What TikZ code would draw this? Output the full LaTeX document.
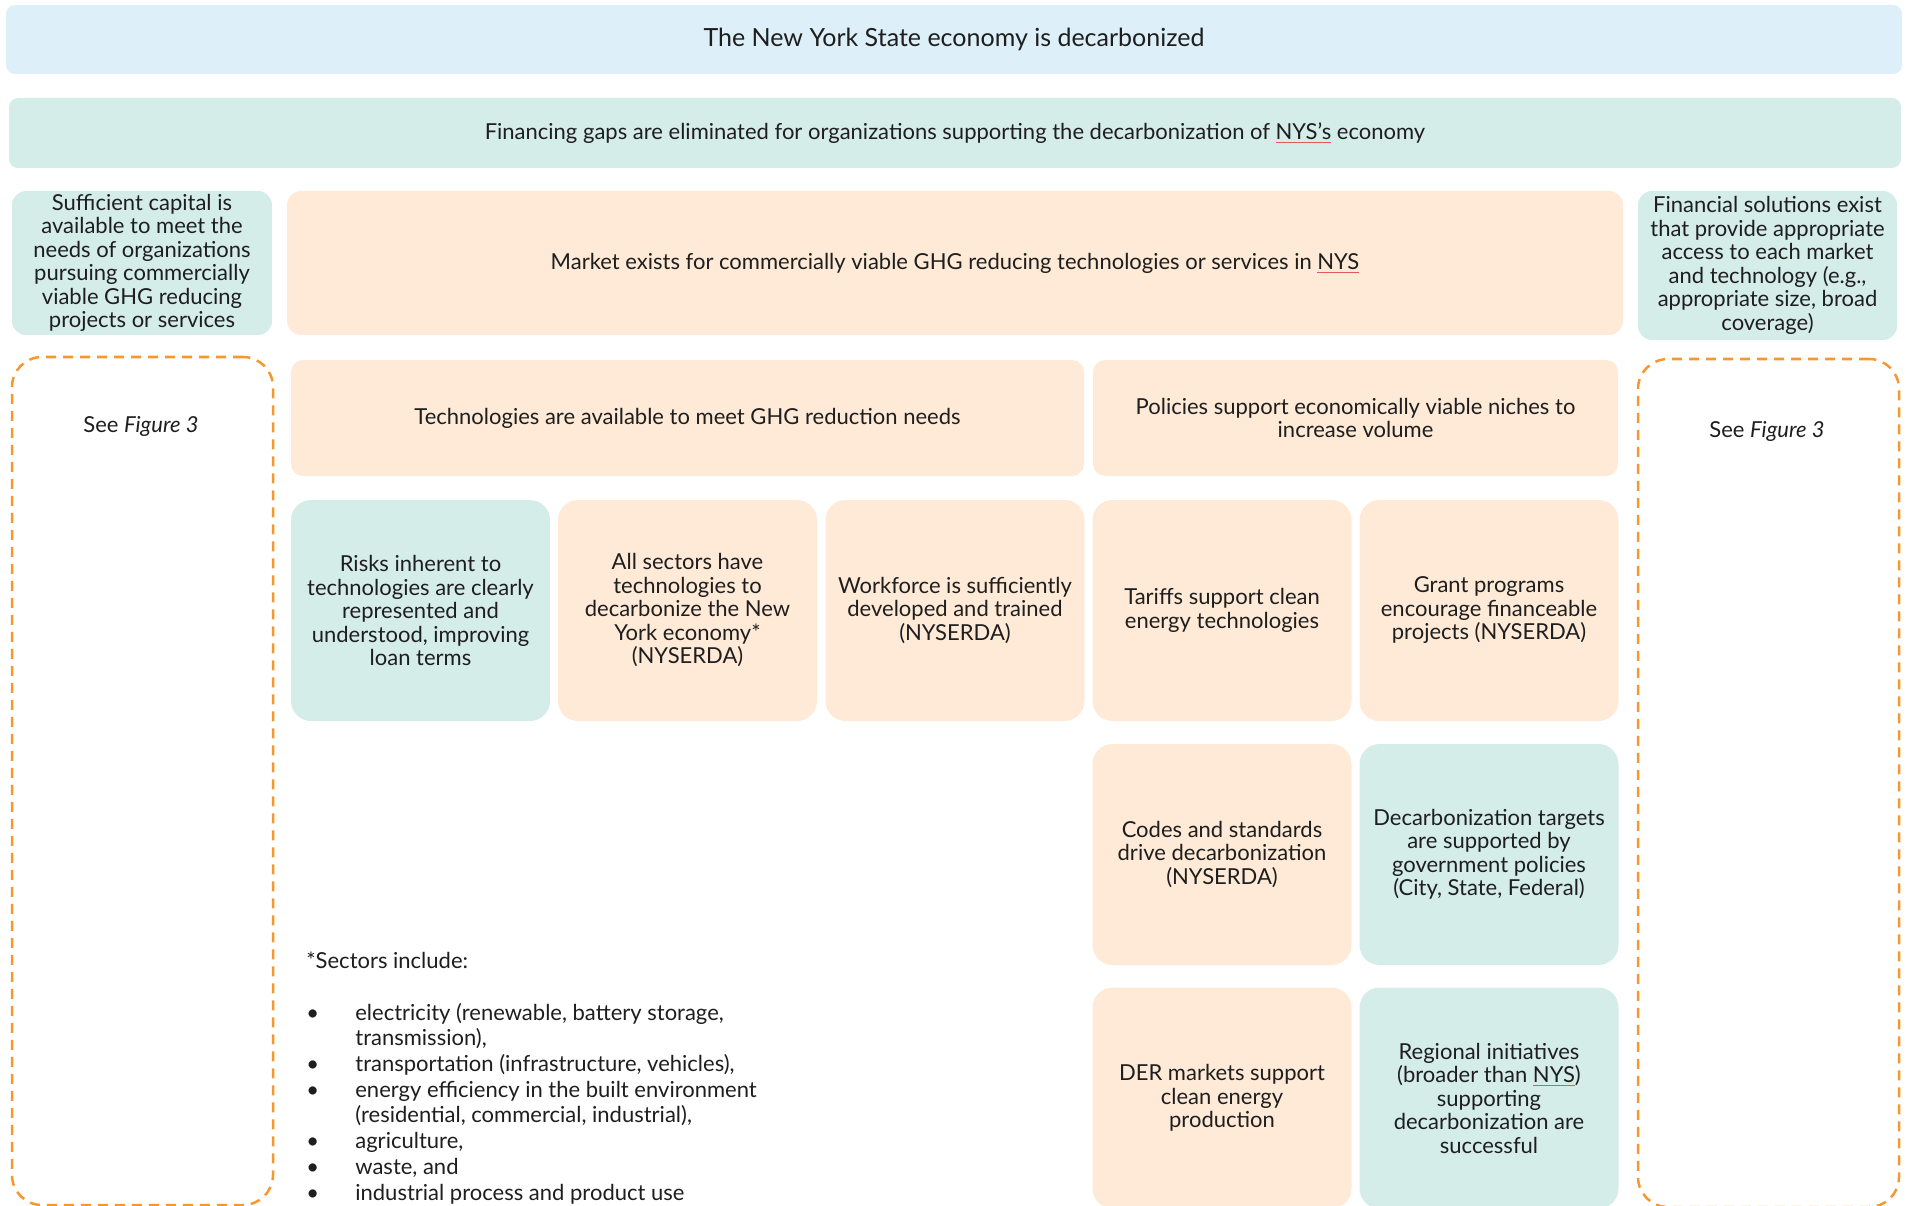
\documentclass[tikz,border=0pt]{standalone}
\usepackage{fontspec}
\setmainfont{Lato}

\definecolor{ink}{HTML}{1E1E1E}
\definecolor{skyfill}{HTML}{DDEFF8}
\definecolor{tealfill}{HTML}{D5EDE9}
\definecolor{peachfill}{HTML}{FEEAD7}
\definecolor{dashorange}{HTML}{F7982F}
\definecolor{spellred}{HTML}{E05A5A}

\newcommand\boxfont{\fontsize{22}{23.5}\selectfont}
\newcommand\headfont{\fontsize{25}{28}\selectfont}
\newcommand\notefont{\fontsize{22}{25.7}\selectfont}
\newsavebox\spellbox
\newcommand\spellul[1]{\sbox\spellbox{#1}\rlap{\textcolor{spellred}{\rule[-0.3ex]{\wd\spellbox}{0.7pt}}}\usebox\spellbox}

\tikzset{every picture/.style={line width=0.75pt}}
\tikzset{
  goalbox/.style={rectangle, rounded corners=9pt, inner sep=0pt, align=center, text=ink, font=\boxfont},
  cellbox/.style={goalbox, rounded corners=20pt, minimum width=259pt, minimum height=221pt},
  seebox/.style={rectangle, rounded corners=30pt, draw=dashorange, line width=2.5pt, dash pattern=on 10pt off 7pt, minimum width=261pt, minimum height=848pt},
  plaintext/.style={inner sep=0pt, text=ink, font=\boxfont}
}

\begin{document}
\begin{tikzpicture}[x=1pt,y=1pt,yscale=-1,xscale=1]
\clip (0,0) rectangle (1912,1206);

%Rounded Rect [top goal]
\node [goalbox, fill=skyfill, minimum width=1896pt, minimum height=69pt, font=\headfont] (decarb) at (954,39.5) {The New York State economy is decarbonized};
%Rounded Rect [financing gaps]
\node [goalbox, fill=tealfill, minimum width=1892pt, minimum height=70pt] (gaps) at (955,133) {Financing gaps are eliminated for organizations supporting the decarbonization of \spellul{NYS’s} economy};

%Rounded Rect [third row]
\node [goalbox, fill=tealfill, rounded corners=14pt, minimum width=260pt, minimum height=144pt] (capital) at (142,263) {Sufficient capital is\\available to meet the\\needs of organizations\\pursuing commercially\\viable GHG reducing\\projects or services};
\node [goalbox, fill=peachfill, rounded corners=14pt, minimum width=1336pt, minimum height=144pt] (market) at (955,263) {Market exists for commercially viable GHG reducing technologies or services in \spellul{NYS}};
\node [goalbox, fill=tealfill, rounded corners=14pt, minimum width=259pt, minimum height=149pt] (solutions) at (1767.5,265.5) {Financial solutions exist\\that provide appropriate\\access to each market\\and technology (e.g.,\\appropriate size, broad\\coverage)};

%Dashed Rect [see figure 3]
\node [seebox] (seeL) at (142.5,781) {};
\node [seebox] (seeR) at (1768.5,783) {};
\node [plaintext] (seeLtext) at (141,426) {See \textit{Figure 3}};
\node [plaintext] (seeRtext) at (1767,431) {See \textit{Figure 3}};

%Rounded Rect [fourth row]
\node [goalbox, fill=peachfill, rounded corners=12pt, minimum width=793pt, minimum height=116pt] (tech) at (687.5,418) {Technologies are available to meet GHG reduction needs};
\node [goalbox, fill=peachfill, rounded corners=12pt, minimum width=525pt, minimum height=116pt] (policy) at (1355.5,418) {Policies support economically viable niches to\\increase volume};

%Rounded Rect [cells]
\node [cellbox, fill=tealfill] (risks) at (420.5,610.5) {Risks inherent to\\technologies are clearly\\represented and\\understood, improving\\loan terms};
\node [cellbox, fill=peachfill] (sectors) at (687.5,610.5) {All sectors have\\technologies to\\decarbonize the New\\York economy*\\(NYSERDA)};
\node [cellbox, fill=peachfill] (workforce) at (955,610.5) {Workforce is sufficiently\\developed and trained\\(NYSERDA)};
\node [cellbox, fill=peachfill] (tariffs) at (1222,610.5) {Tariffs support clean\\energy technologies};
\node [cellbox, fill=peachfill] (grants) at (1489,610.5) {Grant programs\\encourage financeable\\projects (NYSERDA)};
\node [cellbox, fill=peachfill] (codes) at (1222,854.5) {Codes and standards\\drive decarbonization\\(NYSERDA)};
\node [cellbox, fill=tealfill] (targets) at (1489,854.5) {Decarbonization targets\\are supported by\\government policies\\(City, State, Federal)};
\node [cellbox, fill=peachfill] (der) at (1222,1098) {DER markets support\\clean energy\\production};
\node [cellbox, fill=tealfill] (regional) at (1489,1098) {Regional initiatives\\(broader than \spellul{NYS})\\supporting\\decarbonization are\\successful};

% Text Node [sector note]
\node [plaintext, font=\notefont, align=left, anchor=north west] (note) at (306,952) {*Sectors include:\\[32pt]
\begin{tabular}{@{}p{49pt}@{}l@{}}
\textbullet & electricity (renewable, battery storage,\\
 & transmission),\\
\textbullet & transportation (infrastructure, vehicles),\\
\textbullet & energy efficiency in the built environment\\
 & (residential, commercial, industrial),\\
\textbullet & agriculture,\\
\textbullet & waste, and\\
\textbullet & industrial process and product use
\end{tabular}};

\end{tikzpicture}
\end{document}
